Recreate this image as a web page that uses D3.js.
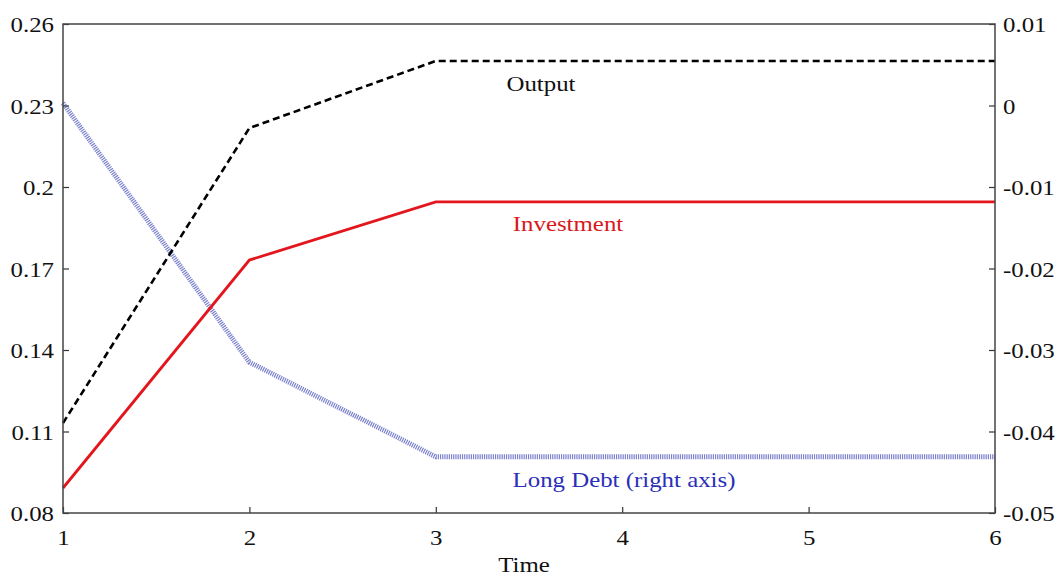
<!DOCTYPE html>
<html><head><meta charset="utf-8">
<script src="https://cdn.jsdelivr.net/npm/d3@7"></script>
<style>body{margin:0;background:#fff}svg{display:block}</style>
</head><body>
<svg id="c" width="1057" height="577"></svg>
<script>
const times = [1, 2, 3, 4, 5, 6];
const output = [0.1131, 0.2217, 0.2464, 0.2464, 0.2464, 0.2464];
const investment = [0.0892, 0.1731, 0.1945, 0.1945, 0.1945, 0.1945];
const longDebt = [0.0003, -0.0315, -0.0431, -0.0431, -0.0431, -0.0431];
const leftTicks = [0.08, 0.11, 0.14, 0.17, 0.2, 0.23, 0.26];
const rightTicks = [-0.05, -0.04, -0.03, -0.02, -0.01, 0, 0.01];
const xTicks = [1, 2, 3, 4, 5, 6];

const svg = d3.select("#c");
const L = 63, R = 995, T = 24, B = 513;
const x = d3.scaleLinear().domain([1, 6]).range([L, R]);
const yL = d3.scaleLinear().domain([0.08, 0.26]).range([B, T]);
const yR = d3.scaleLinear().domain([-0.05, 0.01]).range([B, T]);
const font = "'Liberation Serif', 'Times New Roman', serif";
const FS = 22, SX = 1.13;

const g = svg.append("g");
const line = (ys) => d3.line().x((d, i) => x(times[i])).y(d => ys(d));
g.append("path").datum(longDebt).attr("d", line(yR)).attr("fill", "none")
  .attr("stroke", "#7a80cc").attr("stroke-width", 5).attr("stroke-dasharray", "1.2,1");
g.append("path").datum(investment).attr("d", line(yL)).attr("fill", "none")
  .attr("stroke", "#e3161d").attr("stroke-width", 2.8);
g.append("path").datum(output).attr("d", line(yL)).attr("fill", "none")
  .attr("stroke", "#000").attr("stroke-width", 2.6).attr("stroke-dasharray", "7,4");

const fmt = d => String(+d.toFixed(2));
const ax = (gen, tr) => {
  const a = svg.append("g").attr("transform", tr).call(gen);
  a.select(".domain").remove();
  a.selectAll("line").attr("stroke", "#333").attr("stroke-width", 1.2);
  a.selectAll("text").attr("font-family", font).attr("font-size", FS).attr("fill", "#111");
  return a;
};
const bx = ax(d3.axisBottom(x).tickValues(xTicks).tickFormat(d3.format("d")).tickSizeInner(-6).tickPadding(0), `translate(0,${B})`);
bx.selectAll("text").attr("y", 32).attr("dy", null).attr("transform", `scale(${SX},1)`);
const lx = ax(d3.axisLeft(yL).tickValues(leftTicks).tickFormat(fmt).tickSizeInner(-6).tickPadding(0), `translate(${L},0)`);
lx.selectAll("text").attr("x", -9 / SX).attr("dy", "0.36em").attr("transform", `scale(${SX},1)`);
const rx = ax(d3.axisRight(yR).tickValues(rightTicks).tickFormat(fmt).tickSizeInner(-6).tickPadding(0), `translate(${R},0)`);
rx.selectAll("text").attr("x", 8 / SX).attr("dy", "0.36em").attr("transform", `scale(${SX},1)`);

svg.append("rect").attr("x", L).attr("y", T).attr("width", R - L).attr("height", B - T)
  .attr("fill", "none").attr("stroke", "#444").attr("stroke-width", 1.5);

const lab = (t, cx, cy, col) => svg.append("text")
  .attr("transform", `translate(${cx},${cy}) scale(${SX},1)`).attr("text-anchor", "middle")
  .attr("font-family", font).attr("font-size", FS).attr("fill", col).text(t);
lab("Output", 541, 91, "#111");
lab("Investment", 568, 231, "#d81820");
lab("Long Debt (right axis)", 624, 487, "#2a2fb8");
lab("Time", 524, 572, "#111");
</script>
</body></html>
